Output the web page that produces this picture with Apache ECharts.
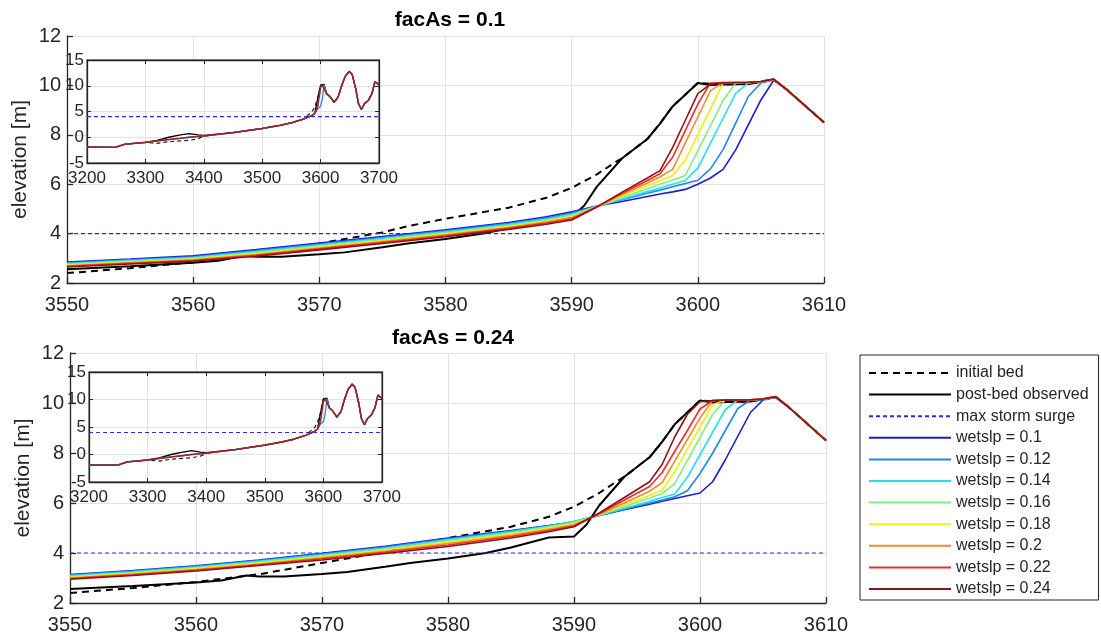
<!DOCTYPE html>
<html>
<head>
<meta charset="utf-8">
<script src="https://cdn.jsdelivr.net/npm/echarts@6/dist/echarts.min.js"></script>
<style>
html,body{margin:0;padding:0;background:#fff;}
#chart{width:1101px;height:635px;}
</style>
</head>
<body>
<div id="chart"></div>
<script>
// ---------------- DATA ----------------
const panelTitles = ['facAs = 0.1', 'facAs = 0.24'];
const wetNames = ['wetslp = 0.1','wetslp = 0.12','wetslp = 0.14','wetslp = 0.16','wetslp = 0.18','wetslp = 0.2','wetslp = 0.22','wetslp = 0.24'];
const surgeLevel = 4;

// model cross-shore grid (main panels)
const modelX = [3550,3555,3560,3565,3570,3575,3580,3585,3588,3590,3592,3594,3596,3597,3598,3599,3600,3601,3602,3603,3604,3605,3606,3607,3608,3609,3610];

// facAs = 0.1 (top panel)
const top010 = [2.85,2.97,3.10,3.35,3.62,3.88,4.15,4.45,4.68,4.88, 5.12,5.30,5.50,5.60,5.69,5.79,6.00,6.25,6.60,7.39,8.40,9.41,10.20, 9.85,9.40,8.95,8.50];
const top012 = [2.82,2.94,3.06,3.31,3.58,3.84,4.11,4.41,4.63,4.83, 5.11,5.37,5.63,5.76,5.90,6.03,6.16,6.62,7.40,8.47,9.55,10.10,10.22, 9.85,9.40,8.95,8.50];
const top014 = [2.79,2.91,3.03,3.27,3.54,3.80,4.07,4.37,4.59,4.78, 5.10,5.40,5.70,5.85,6.00,6.15,6.65,7.66,8.67,9.68,10.10,10.15,10.24, 9.85,9.40,8.95,8.50];
const top016 = [2.76,2.88,3.00,3.23,3.50,3.76,4.03,4.33,4.55,4.74, 5.10,5.46,5.82,6.00,6.17,6.35,7.36,8.37,9.39,10.10,10.12,10.15,10.25, 9.85,9.40,8.95,8.50];
const top018 = [2.73,2.85,2.97,3.19,3.46,3.72,3.99,4.29,4.51,4.69, 5.09,5.52,5.94,6.14,6.35,6.97,8.01,9.05,10.10,10.12,10.13,10.16,10.25, 9.85,9.40,8.95,8.50];
const top020 = [2.70,2.82,2.94,3.15,3.42,3.68,3.95,4.25,4.47,4.64, 5.09,5.58,6.05,6.29,6.60,7.66,8.72,9.78,10.12,10.12,10.13,10.16,10.25, 9.85,9.40,8.95,8.50];
const top022 = [2.68,2.80,2.91,3.12,3.38,3.64,3.91,4.21,4.43,4.60, 5.08,5.63,6.15,6.42,7.09,8.17,9.24,10.10,10.12,10.12,10.13,10.16,10.25, 9.85,9.40,8.95,8.50];
const top024 = [2.65,2.77,2.88,3.08,3.34,3.60,3.87,4.17,4.38,4.55, 5.08,5.68,6.25,6.55,7.48,8.58,9.67,10.05,10.10,10.12,10.13,10.16,10.25, 9.85,9.40,8.95,8.50];

// facAs = 0.24 (bottom panel)
const bot010 = [3.14,3.30,3.49,3.72,3.99,4.27,4.60,4.90,5.10,5.24, 5.50,5.73,5.95,6.07,6.18,6.29,6.40,6.85,7.72,8.67,9.62,10.12,10.22, 9.85,9.40,8.95,8.50];
const bot012 = [3.12,3.28,3.47,3.70,3.96,4.24,4.57,4.88,5.09,5.26, 5.50,5.75,6.00,6.12,6.25,6.49,7.18,7.99,8.89,9.78,10.12,10.14,10.23, 9.85,9.40,8.95,8.50];
const bot014 = [3.09,3.25,3.44,3.67,3.93,4.20,4.53,4.85,5.07,5.27, 5.51,5.79,6.07,6.22,6.36,7.03,7.93,8.83,9.73,10.12,10.12,10.15,10.24, 9.85,9.40,8.95,8.50];
const bot016 = [3.06,3.22,3.41,3.63,3.89,4.16,4.49,4.81,5.04,5.22, 5.52,5.86,6.20,6.38,6.78,7.70,8.62,9.54,10.12,10.12,10.13,10.15,10.25, 9.85,9.40,8.95,8.50];
const bot018 = [3.03,3.19,3.38,3.60,3.85,4.12,4.44,4.76,5.00,5.18, 5.53,5.92,6.31,6.51,7.26,8.15,9.04,9.93,10.12,10.12,10.13,10.16,10.25, 9.85,9.40,8.95,8.50];
const bot020 = [3.00,3.16,3.34,3.56,3.81,4.07,4.38,4.71,4.95,5.13, 5.55,6.00,6.47,6.82,7.68,8.54,9.40,10.10,10.12,10.12,10.13,10.16,10.25, 9.85,9.40,8.95,8.50];
const bot022 = [2.98,3.13,3.31,3.53,3.77,4.03,4.32,4.66,4.90,5.09, 5.57,6.12,6.66,7.22,8.07,8.90,9.76,10.10,10.12,10.12,10.13,10.16,10.25, 9.85,9.40,8.95,8.50];
const bot024 = [2.95,3.10,3.28,3.50,3.72,3.98,4.26,4.60,4.85,5.05, 5.60,6.22,6.85,7.55,8.65,9.55,10.05,10.10,10.12,10.12,10.13,10.16,10.25, 9.85,9.40,8.95,8.50];

// observed post-storm bed
const obsX = [3550,3555,3560,3562,3564,3565,3567,3570,3572,3575,3577,3580,3583,3585,3588,3590,3591,3592,3594,3596,3597,3598,3600,3601,3602,3603,3604,3605,3606,3607,3608,3609,3610];
const obsY = [2.56,2.68,2.82,2.90,3.10,3.06,3.06,3.16,3.24,3.45,3.60,3.78,4.00,4.22,4.62,4.66,5.14,5.90,7.05,7.83,8.45,9.15,10.10,10.02,10.04,10.05,10.06,10.15,10.25,9.85,9.40,8.95,8.50];

// initial bed
const initX = [3550,3555,3560,3565,3570,3575,3577,3580,3585,3588,3590,3592,3593.5,3594,3596,3597,3598,3600,3602,3604,3606,3607,3608,3609,3610];
const initY = [2.40,2.60,2.84,3.15,3.60,4.05,4.30,4.60,5.05,5.45,5.85,6.40,6.90,7.05,7.83,8.45,9.15,10.10,10.04,10.06,10.25,9.85,9.40,8.95,8.50];

// inset (full profile)
const insetX     = [3200,3245,3250,3265,3300,3320,3340,3360,3375,3390,3400,3450,3500,3530,3550,3570,3585,3590,3595,3600,3603,3606,3610,3616,3623,3630,3636,3642,3649,3654,3660,3665,3670,3675,3682,3688,3693,3700];
const insetModel = [-1.9,-1.95,-1.9,-1.35,-1.0,-0.7,-0.45,-0.2,0.0,0.15,0.25,0.9,1.7,2.3,2.8,3.5,4.2,4.6,6.0,9.7,10.1,10.25,8.5,7.9,6.8,7.8,10.0,11.8,12.8,12.2,9.5,6.5,5.4,6.5,7.2,8.5,10.8,10.2];
const insetBlue  = [-1.9,-1.95,-1.9,-1.35,-1.0,-0.7,-0.45,-0.2,0.0,0.15,0.25,0.9,1.7,2.3,2.8,3.5,4.2,4.6,5.5,6.0,7.4,10.2,8.5,7.9,6.8,7.8,10.0,11.8,12.8,12.2,9.5,6.5,5.4,6.5,7.2,8.5,10.8,10.2];
const insetObs   = [-1.9,-1.95,-1.9,-1.35,-1.0,-0.6,0.0,0.45,0.7,0.45,0.35,0.9,1.7,2.3,2.8,3.5,4.2,4.66,7.5,10.1,10.05,10.25,8.5,7.9,6.8,7.8,10.0,11.8,12.8,12.2,9.5,6.5,5.4,6.5,7.2,8.5,10.8,10.2];
const insetInit  = [-1.9,-1.95,-1.9,-1.35,-1.0,-1.2,-0.85,-0.7,-0.6,-0.3,0.2,0.9,1.7,2.3,2.8,3.5,4.9,5.85,7.6,10.1,10.05,10.25,8.5,7.9,6.8,7.8,10.0,11.8,12.8,12.2,9.5,6.5,5.4,6.5,7.2,8.5,10.8,10.2];

// ---------------- BUILD ----------------
const topSets = [top010,top012,top014,top016,top018,top020,top022,top024];
const botSets = [bot010,bot012,bot014,bot016,bot018,bot020,bot022,bot024];
const wetColors = ['#1c1cd8','#1e88f0','#22e2ee','#84ee84','#f0f00c','#f58c2c','#f02a2a','#8c1414'];
const FONT = '"Liberation Sans", Arial, Helvetica, sans-serif';
const AX = '#262626';
const GRIDC = '#e2e2e2';
const pairs = (xs, ys) => xs.map((x, i) => [x, ys[i]]);
const plain = v => String(v);

function mainX(gi) {
  return {type:'value', gridIndex:gi, min:3550, max:3610, interval:10,
    axisLine:{show:true, onZero:false, lineStyle:{color:AX, width:1.3}},
    axisTick:{show:true, inside:true, length:6, lineStyle:{color:AX, width:1.3}},
    axisLabel:{fontSize:20, color:AX, fontFamily:FONT, margin:12, formatter:plain},
    splitLine:{show:true, lineStyle:{color:GRIDC, width:1}}};
}
function mainY(gi) {
  return {type:'value', gridIndex:gi, min:2, max:12, interval:2,
    name:'elevation [m]', nameLocation:'middle', nameGap:36, nameMoveOverlap:false,
    nameTextStyle:{fontSize:21, color:AX, fontFamily:FONT},
    axisLine:{show:true, onZero:false, lineStyle:{color:AX, width:1.3}},
    axisTick:{show:true, inside:true, length:6, lineStyle:{color:AX, width:1.3}},
    axisLabel:{fontSize:20, color:AX, fontFamily:FONT, margin:6, formatter:plain},
    splitLine:{show:true, lineStyle:{color:GRIDC, width:1}}};
}
function insetXAx(gi, pos) {
  const labels = pos === 'bottom';
  return {type:'value', gridIndex:gi, min:3200, max:3700, interval:100, position:pos, z:4,
    axisLine:{show:true, onZero:false, lineStyle:{color:AX, width:1.3}},
    axisTick:{show:true, inside:true, length:4, lineStyle:{color:AX}},
    axisLabel:{show:labels, fontSize:17, color:AX, fontFamily:FONT, margin:7, formatter:plain},
    splitLine:{show:labels, lineStyle:{color:GRIDC, width:1}}};
}
function insetYAx(gi, pos) {
  const labels = pos === 'left';
  return {type:'value', gridIndex:gi, min:-5, max:15, interval:5, position:pos, z:4,
    axisLine:{show:true, onZero:false, lineStyle:{color:AX, width:1.3}},
    axisTick:{show:true, inside:true, length:4, lineStyle:{color:AX}},
    axisLabel:{show:labels, fontSize:17, color:AX, fontFamily:FONT, margin:3, formatter:plain},
    splitLine:{show:labels, lineStyle:{color:GRIDC, width:1}}};
}

const series = [];
function addPanel(p) {
  const mx = p === 0 ? 0 : 2, ix = p === 0 ? 1 : 3;
  const sets = p === 0 ? topSets : botSets;
  series.push({name:'initial bed', type:'line', xAxisIndex:mx, yAxisIndex:mx, symbol:'none', z:2,
    data:pairs(initX, initY), lineStyle:{color:'#000', width:2, type:[7,5]}, itemStyle:{color:'#000'}});
  series.push({name:'post-bed observed', type:'line', xAxisIndex:mx, yAxisIndex:mx, symbol:'none', z:2,
    data:pairs(obsX, obsY), lineStyle:{color:'#000', width:2}, itemStyle:{color:'#000'}});
  series.push({name:'max storm surge', type:'line', xAxisIndex:mx, yAxisIndex:mx, symbol:'none', z:2,
    data:[[3550, surgeLevel],[3610, surgeLevel]], lineStyle:{color:'#2a2aff', width:1.1, type:[4,3]}, itemStyle:{color:'#2a2aff'}});
  sets.forEach((ys, k) => {
    series.push({name:wetNames[k], type:'line', xAxisIndex:mx, yAxisIndex:mx, symbol:'none', z:2,
      data:pairs(modelX, ys), lineStyle:{color:wetColors[k], width:1.6}, itemStyle:{color:wetColors[k]}});
  });
  const insetStyle = (d, c, w, t) => ({type:'line', xAxisIndex:ix, yAxisIndex:ix, symbol:'none', z:6, silent:true,
    data:d, lineStyle:{color:c, width:w, type:t || 'solid'}});
  series.push(insetStyle([[3200, surgeLevel],[3700, surgeLevel]], '#2a2aff', 1.1, [4,3]));
  series.push(insetStyle(pairs(insetX, insetInit), '#222', 1.2, [4,3]));
  series.push(insetStyle(pairs(insetX, insetObs), '#000', 1.3));
  series.push(insetStyle(pairs(insetX, insetBlue), '#1e88f0', 1.3));
  series.push(insetStyle(pairs(insetX, insetModel), '#a02424', 1.6));
}
addPanel(0);
addPanel(1);

const option = {
  animation:false,
  backgroundColor:'#fff',
  textStyle:{fontFamily:FONT},
  title:[
    {text:panelTitles[0], left:445, top:5, textAlign:'center', textStyle:{fontSize:21, fontWeight:'bold', color:'#000', fontFamily:FONT}},
    {text:panelTitles[1], left:448, top:323, textAlign:'center', textStyle:{fontSize:21, fontWeight:'bold', color:'#000', fontFamily:FONT}}
  ],
  grid:[
    {left:67, top:36, width:757, height:247},
    {left:87, top:60, width:292, height:103, show:true, backgroundColor:'#fff', borderColor:AX, borderWidth:1, z:3},
    {left:70, top:353, width:756, height:250},
    {left:89, top:372, width:293, height:110, show:true, backgroundColor:'#fff', borderColor:AX, borderWidth:1, z:3}
  ],
  xAxis:[mainX(0), insetXAx(1,'bottom'), mainX(2), insetXAx(3,'bottom'), insetXAx(1,'top'), insetXAx(3,'top')],
  yAxis:[mainY(0), insetYAx(1,'left'), mainY(2), insetYAx(3,'left'), insetYAx(1,'right'), insetYAx(3,'right')],
  legend:{
    data:['initial bed','post-bed observed','max storm surge'].concat(wetNames),
    orient:'vertical', left:860, top:355,
    itemWidth:82, itemHeight:14, itemGap:5.6,
    padding:[10,10,3,8],
    borderColor:AX, borderWidth:1, backgroundColor:'#fff',
    itemStyle:{opacity:0},
    textStyle:{fontSize:16, color:AX, fontFamily:FONT},
    selectedMode:false
  },
  series:series
};

const chart = echarts.init(document.getElementById('chart'), null, {renderer:'canvas'});
chart.setOption(option);
</script>
</body>
</html>
